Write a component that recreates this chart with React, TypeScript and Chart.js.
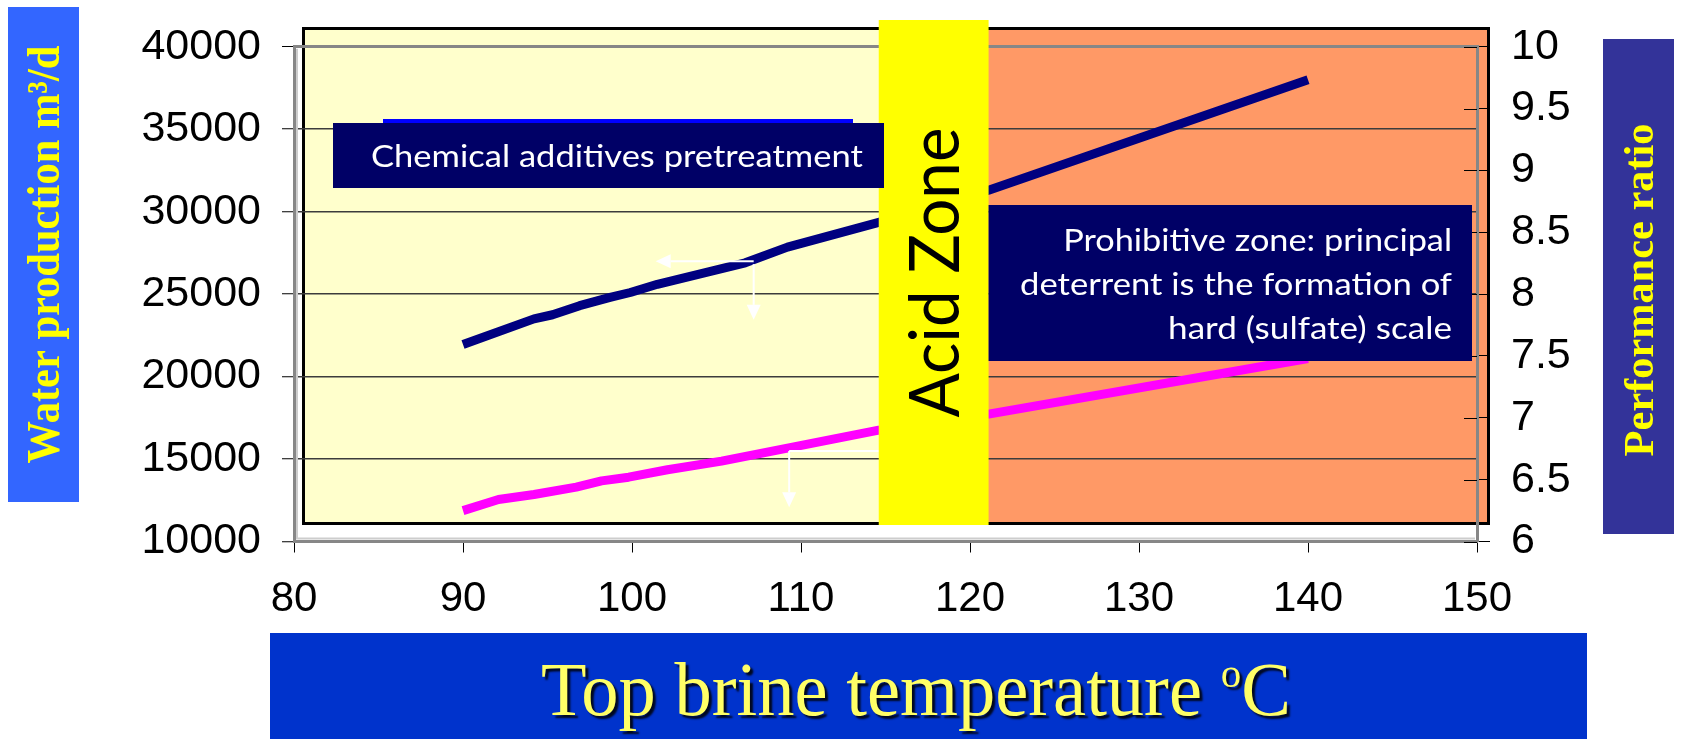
import React, { useEffect, useRef } from "react";
import { Chart, registerables } from "chart.js";

Chart.register(...registerables);

// Water production curve: top brine temperature (°C) against production (m³/d)
const waterTemps = [90, 94.2, 95.3, 96.9, 98.7, 99.9, 101.5, 106.7, 109.2, 114.6, 121.1, 140];
const waterProduction = [21950, 23500, 23750, 24300, 24800, 25100, 25600, 26900, 27850, 29350, 31300, 38000];

// Performance ratio curve: top brine temperature (°C) against ratio
const ratioTemps = [90, 92.1, 94.2, 96.7, 98.2, 99.8, 102.1, 105.3, 114.6, 121.1, 140];
const performanceRatio = [6.25, 6.34, 6.38, 6.44, 6.49, 6.52, 6.58, 6.65, 6.9, 7.03, 7.48];

// Axis ticks
const temperatureTicks = [80, 90, 100, 110, 120, 130, 140, 150];
const productionTicks = [10000, 15000, 20000, 25000, 30000, 35000, 40000];
const ratioTicks = [6, 6.5, 7, 7.5, 8, 8.5, 9, 9.5, 10];

// Acid zone band, in °C
const acidZone = [114.6, 121.1];

// Reading guides: a point on each curve with arrows towards its axes
const productionGuide = { t: 107.2, v: 27000, leftTo: 101.4, downTo: 23440 };
const ratioGuide = { t: 109.3, v: 6.732, rightTo: 116.5, downTo: 6.277 };

const W = 1681;
const H = 739;

const TICK_FONT = '"Liberation Sans", Arial, sans-serif';
const TITLE_FONT = '"Liberation Serif", "Times New Roman", serif';
const CALLOUT_FONT = 'Lato, "Open Sans", sans-serif';

const PANEL = { left: 303.5, top: 28.5, right: 1488.5, bottom: 523.5 };
const LEFT_TITLE_BOX = { x: 8, y: 7, w: 71, h: 495 };
const RIGHT_TITLE_BOX = { x: 1603, y: 39, w: 71, h: 495 };
const X_TITLE_BOX = { x: 270, y: 633, w: 1317, h: 106 };
const CHEM_BOX = { x: 333, y: 123, w: 551, h: 65 };
const CHEM_STRIP = { x: 383, y: 119, w: 470, h: 4 };
const PROHIB_BOX = { top: 205, bottom: 361, right: 1472 };
const ACID_BOX = { top: 20, bottom: 525 };

type FitOpts = {
  text: string;
  weight?: string;
  family: string;
  width: number;
  cap: number;
  x: number;
  y: number;
  angle?: number;
  align?: CanvasTextAlign;
  color: string;
};

// Draws text so that it spans a given width and cap height, anchored at its baseline
function drawFitted(ctx: CanvasRenderingContext2D, o: FitOpts) {
  const weight = o.weight ?? "normal";
  ctx.save();
  ctx.font = `${weight} 100px ${o.family}`;
  const w100 = ctx.measureText(o.text).width;
  const size = (100 * o.width) / w100;
  ctx.font = `${weight} ${size}px ${o.family}`;
  const capH = ctx.measureText("H").actualBoundingBoxAscent || size * 0.7;
  const sy = o.cap / capH;
  ctx.translate(o.x, o.y);
  if (o.angle) ctx.rotate(o.angle);
  ctx.scale(1, sy);
  ctx.textAlign = o.align ?? "left";
  ctx.textBaseline = "alphabetic";
  ctx.fillStyle = o.color;
  ctx.fillText(o.text, 0, 0);
  ctx.restore();
}

function drawArrow(ctx: CanvasRenderingContext2D, x1: number, y1: number, x2: number, y2: number) {
  const len = Math.hypot(x2 - x1, y2 - y1);
  const ux = (x2 - x1) / len;
  const uy = (y2 - y1) / len;
  const head = 15;
  const half = 7;
  const bx = x2 - ux * head;
  const by = y2 - uy * head;
  ctx.beginPath();
  ctx.moveTo(x1, y1);
  ctx.lineTo(bx, by);
  ctx.stroke();
  ctx.beginPath();
  ctx.moveTo(x2, y2);
  ctx.lineTo(bx - uy * half, by + ux * half);
  ctx.lineTo(bx + uy * half, by - ux * half);
  ctx.closePath();
  ctx.fill();
}

function drawXTitle(ctx: CanvasRenderingContext2D) {
  const main = "Top brine temperature ";
  const left = 541;
  const baseline = 715;
  const targetWidth = 750;
  const cap = 49;
  ctx.save();
  ctx.font = `100px ${TITLE_FONT}`;
  const wMain = ctx.measureText(main).width;
  const wC = ctx.measureText("C").width;
  const capH = ctx.measureText("T").actualBoundingBoxAscent || 66;
  ctx.font = `55px ${TITLE_FONT}`;
  const wO = ctx.measureText("o").width;
  const k = targetWidth / (wMain + wO + wC);
  const sy = cap / (capH * k);
  ctx.translate(left, baseline);
  ctx.scale(1, sy);
  ctx.fillStyle = "#FFFF66";
  ctx.shadowColor = "rgba(0,0,0,0.85)";
  ctx.shadowOffsetX = 3;
  ctx.shadowOffsetY = 3;
  ctx.shadowBlur = 2;
  ctx.textBaseline = "alphabetic";
  ctx.textAlign = "left";
  ctx.font = `${100 * k}px ${TITLE_FONT}`;
  ctx.fillText(main, 0, 0);
  ctx.fillText("C", (wMain + wO) * k, 0);
  ctx.font = `${55 * k}px ${TITLE_FONT}`;
  ctx.fillText("o", wMain * k, -28 / sy);
  ctx.restore();
}

const decorations = {
  id: "decorations",
  beforeDraw(chart: any) {
    const ctx: CanvasRenderingContext2D = chart.ctx;
    const xs = chart.scales.x;
    const split = xs.getPixelForValue((acidZone[0] + acidZone[1]) / 2);
    ctx.save();
    // plot panel: treatment region and prohibitive region
    ctx.fillStyle = "#FFFFCC";
    ctx.fillRect(PANEL.left, PANEL.top, split - PANEL.left, PANEL.bottom - PANEL.top);
    ctx.fillStyle = "#FF9966";
    ctx.fillRect(split, PANEL.top, PANEL.right - split, PANEL.bottom - PANEL.top);
    ctx.strokeStyle = "#000";
    ctx.lineWidth = 3;
    ctx.strokeRect(PANEL.left, PANEL.top, PANEL.right - PANEL.left, PANEL.bottom - PANEL.top);

    // axis title boxes
    ctx.fillStyle = "#3366FF";
    ctx.fillRect(LEFT_TITLE_BOX.x, LEFT_TITLE_BOX.y, LEFT_TITLE_BOX.w, LEFT_TITLE_BOX.h);
    ctx.fillStyle = "#333399";
    ctx.fillRect(RIGHT_TITLE_BOX.x, RIGHT_TITLE_BOX.y, RIGHT_TITLE_BOX.w, RIGHT_TITLE_BOX.h);
    ctx.fillStyle = "#0033CC";
    ctx.fillRect(X_TITLE_BOX.x, X_TITLE_BOX.y, X_TITLE_BOX.w, X_TITLE_BOX.h);
    ctx.restore();

    drawFitted(ctx, {
      text: "Water production m³/d",
      weight: "bold",
      family: TITLE_FONT,
      width: 418,
      cap: 31,
      x: LEFT_TITLE_BOX.x + LEFT_TITLE_BOX.w / 2 + 15.5,
      y: LEFT_TITLE_BOX.y + LEFT_TITLE_BOX.h / 2,
      angle: -Math.PI / 2,
      align: "center",
      color: "#FFFF00",
    });
    drawFitted(ctx, {
      text: "Performance ratio",
      weight: "bold",
      family: TITLE_FONT,
      width: 333,
      cap: 28,
      x: 1653,
      y: 290,
      angle: -Math.PI / 2,
      align: "center",
      color: "#FFFF00",
    });
    drawXTitle(ctx);
  },
  beforeDatasetsDraw(chart: any) {
    const ctx: CanvasRenderingContext2D = chart.ctx;
    const { left, right, top, bottom } = chart.chartArea;
    const y1 = chart.scales.y1;
    ctx.save();
    // light inner edge of the axis frame
    ctx.strokeStyle = "#cdcdcd";
    ctx.lineWidth = 2;
    ctx.beginPath();
    ctx.moveTo(left + 3, top + 2);
    ctx.lineTo(left + 3, bottom - 3);
    ctx.lineTo(right - 2, bottom - 3);
    ctx.stroke();
    // inner half of the right axis tick marks
    ctx.strokeStyle = "#000";
    ctx.lineWidth = 1;
    ratioTicks.forEach((v) => {
      const py = Math.round(y1.getPixelForValue(v)) + 0.5;
      ctx.beginPath();
      ctx.moveTo(right - 13, py);
      ctx.lineTo(right, py);
      ctx.stroke();
    });
    ctx.restore();
  },
  afterDatasetsDraw(chart: any) {
    const ctx: CanvasRenderingContext2D = chart.ctx;
    const xs = chart.scales.x;
    const ys = chart.scales.y;
    const y1 = chart.scales.y1;

    // reading guides
    ctx.save();
    ctx.strokeStyle = "#FFFFFF";
    ctx.fillStyle = "#FFFFFF";
    ctx.lineWidth = 2;
    const gx = xs.getPixelForValue(productionGuide.t);
    const gy = ys.getPixelForValue(productionGuide.v);
    drawArrow(ctx, gx, gy, xs.getPixelForValue(productionGuide.leftTo), gy);
    drawArrow(ctx, gx, gy + 3, gx, ys.getPixelForValue(productionGuide.downTo));
    const rx = xs.getPixelForValue(ratioGuide.t);
    const ry = y1.getPixelForValue(ratioGuide.v);
    drawArrow(ctx, rx, ry, xs.getPixelForValue(ratioGuide.rightTo), ry);
    drawArrow(ctx, rx, ry, rx, y1.getPixelForValue(ratioGuide.downTo));
    ctx.restore();

    // acid zone band
    const aL = xs.getPixelForValue(acidZone[0]);
    const aR = xs.getPixelForValue(acidZone[1]);
    ctx.save();
    ctx.fillStyle = "#FFFF00";
    ctx.fillRect(aL, ACID_BOX.top, aR - aL, ACID_BOX.bottom - ACID_BOX.top);
    ctx.restore();
    drawFitted(ctx, {
      text: "Acid Zone",
      family: CALLOUT_FONT,
      width: 290,
      cap: 50,
      x: (aL + aR) / 2 + 25,
      y: (ACID_BOX.top + ACID_BOX.bottom) / 2,
      angle: -Math.PI / 2,
      align: "center",
      color: "#000000",
    });

    // pretreatment callout
    ctx.save();
    ctx.fillStyle = "#0000FF";
    ctx.fillRect(CHEM_STRIP.x, CHEM_STRIP.y, CHEM_STRIP.w, CHEM_STRIP.h);
    ctx.fillStyle = "#000066";
    ctx.fillRect(CHEM_BOX.x, CHEM_BOX.y, CHEM_BOX.w, CHEM_BOX.h);
    ctx.restore();
    drawFitted(ctx, {
      text: "Chemical additives pretreatment",
      family: CALLOUT_FONT,
      width: 492,
      cap: 22.3,
      x: 371,
      y: 166.7,
      color: "#FFFFFF",
    });

    // prohibitive zone callout
    ctx.save();
    ctx.fillStyle = "#000066";
    ctx.fillRect(aR, PROHIB_BOX.top, PROHIB_BOX.right - aR, PROHIB_BOX.bottom - PROHIB_BOX.top);
    ctx.restore();
    const lines = [
      { text: "Prohibitive zone: principal", width: 389, base: 250.7 },
      { text: "deterrent is the formation of", width: 432, base: 295 },
      { text: "hard (sulfate) scale", width: 284, base: 339.3 },
    ];
    lines.forEach((l) =>
      drawFitted(ctx, {
        text: l.text,
        family: CALLOUT_FONT,
        width: l.width,
        cap: 22.4,
        x: 1452,
        y: l.base,
        align: "right",
        color: "#FFFFFF",
      })
    );
  },
};

export default function App() {
  const ref = useRef<HTMLCanvasElement>(null);

  useEffect(() => {
    const canvas = ref.current;
    if (!canvas) return;
    const chart = new Chart(canvas, {
      type: "line",
      data: {
        datasets: [
          {
            label: "Water production",
            data: waterTemps.map((t, i) => ({ x: t, y: waterProduction[i] })),
            yAxisID: "y",
            borderColor: "#000080",
            borderWidth: 9,
            pointRadius: 0,
            tension: 0,
            borderCapStyle: "butt",
            borderJoinStyle: "round",
          },
          {
            label: "Performance ratio",
            data: ratioTemps.map((t, i) => ({ x: t, y: performanceRatio[i] })),
            yAxisID: "y1",
            borderColor: "#FF00FF",
            borderWidth: 9,
            pointRadius: 0,
            tension: 0,
            borderCapStyle: "butt",
            borderJoinStyle: "round",
          },
        ],
      },
      options: {
        responsive: false,
        animation: false,
        devicePixelRatio: 1,
        events: [],
        layout: { padding: { top: 43.3, left: 0, right: 0, bottom: 0 } },
        plugins: {
          legend: { display: false },
          tooltip: { enabled: false },
        },
        scales: {
          x: {
            type: "linear",
            position: "bottom",
            min: 80,
            max: 150,
            afterBuildTicks: (s: any) => {
              s.ticks = temperatureTicks.map((v) => ({ value: v }));
            },
            afterFit: (s: any) => {
              s.height = H - 541.5;
            },
            grid: {
              drawOnChartArea: false,
              drawTicks: true,
              tickLength: 11,
              tickColor: "#000",
              tickWidth: 1,
            },
            border: { display: true, color: "#878787", width: 3 },
            ticks: {
              font: { family: TICK_FONT, size: 42 },
              color: "#000",
              padding: 22,
              maxRotation: 0,
              autoSkip: false,
              callback: (v: any) => String(v),
            },
          },
          y: {
            type: "linear",
            position: "left",
            min: 10000,
            max: 40000,
            afterBuildTicks: (s: any) => {
              s.ticks = productionTicks.map((v) => ({ value: v }));
            },
            afterFit: (s: any) => {
              s.width = 294;
            },
            grid: {
              drawOnChartArea: true,
              drawTicks: true,
              tickLength: 12,
              tickColor: "#000",
              tickWidth: 1,
              color: (c: any) =>
                c.tick && c.tick.value === 40000
                  ? "#878787"
                  : c.tick && c.tick.value === 10000
                  ? "rgba(0,0,0,0)"
                  : "#3c3c3c",
              lineWidth: (c: any) => (c.tick && c.tick.value === 40000 ? 3 : 1.5),
            },
            border: { display: true, color: "#878787", width: 3 },
            ticks: {
              font: { family: TICK_FONT, size: 43 },
              color: "#000",
              padding: 21,
              autoSkip: false,
              callback: (v: any) => String(v),
            },
          },
          y1: {
            type: "linear",
            position: "right",
            min: 6,
            max: 10,
            afterBuildTicks: (s: any) => {
              s.ticks = ratioTicks.map((v) => ({ value: v }));
            },
            afterFit: (s: any) => {
              s.width = W - 1477;
            },
            grid: {
              drawOnChartArea: false,
              drawTicks: true,
              tickLength: 13,
              tickColor: "#000",
              tickWidth: 1,
            },
            border: { display: true, color: "#878787", width: 3 },
            ticks: {
              font: { family: TICK_FONT, size: 43 },
              color: "#000",
              padding: 21,
              autoSkip: false,
              callback: (v: any) => String(v),
            },
          },
        },
      },
      plugins: [decorations],
    } as any);
    return () => chart.destroy();
  }, []);

  return (
    <div style={{ position: "fixed", left: 0, top: 0, width: W, height: H, background: "#fff", overflow: "hidden" }}>
      <canvas ref={ref} width={W} height={H} style={{ display: "block", width: W, height: H }} />
    </div>
  );
}
